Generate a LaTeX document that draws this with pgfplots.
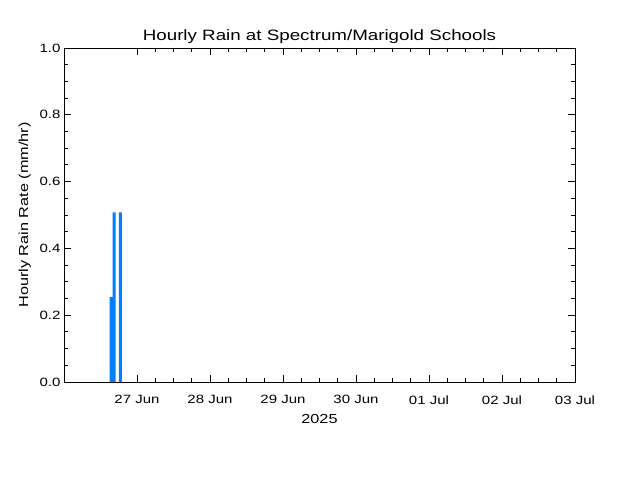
\documentclass[border=0pt]{standalone}
\usepackage{fontspec}
\setmainfont{Liberation Sans}[FakeStretch=1.25]
\usepackage{pgfplots}
\pgfplotsset{compat=1.18}
\definecolor{rainblue}{RGB}{0,128,255}
\begin{document}
\begin{tikzpicture}[x=1pt,y=1pt]
\fill[white] (0,0) rectangle (640,480);
\begin{axis}[
  at={(64pt,98pt)}, anchor=south west, scale only axis,
  width=511pt, height=334pt,
  xmin=0, xmax=168, ymin=0, ymax=1,
  xtick={24,48,72,96,120,144,168},
  xticklabels={27 Jun,28 Jun,29 Jun,30 Jun,01 Jul,02 Jul,03 Jul},
  minor x tick num=3,
  ytick={0,0.2,0.4,0.6,0.8,1.0},
  minor y tick num=3,
  yticklabel style={/pgf/number format/.cd,fixed,fixed zerofill,precision=1},
  /pgf/number format/assume math mode=true,
  tick align=inside,
  major tick length=7pt, minor tick length=4pt,
  axis line style={line width=0.9pt, black},
  every tick/.style={line width=0.9pt, black},
  ticklabel style={font=\fontsize{12}{14}\selectfont},
  xticklabel style={yshift=-10pt},
  label style={font=\fontsize{13}{15}\selectfont},
  xlabel={2025},
  xlabel style={yshift=-3pt},
  ylabel={Hourly Rain Rate (mm/hr)},
  ylabel style={yshift=2pt},
  title={Hourly Rain at Spectrum/Marigold Schools},
  title style={font=\fontsize{15}{17}\selectfont, yshift=-5pt},
  axis on top,
]
\addplot[ybar interval, fill=rainblue, draw=none] coordinates {
  (15,0.254) (16,0.508) (17,0) (18,0.508) (19,0)
};
\end{axis}
\end{tikzpicture}
\end{document}
